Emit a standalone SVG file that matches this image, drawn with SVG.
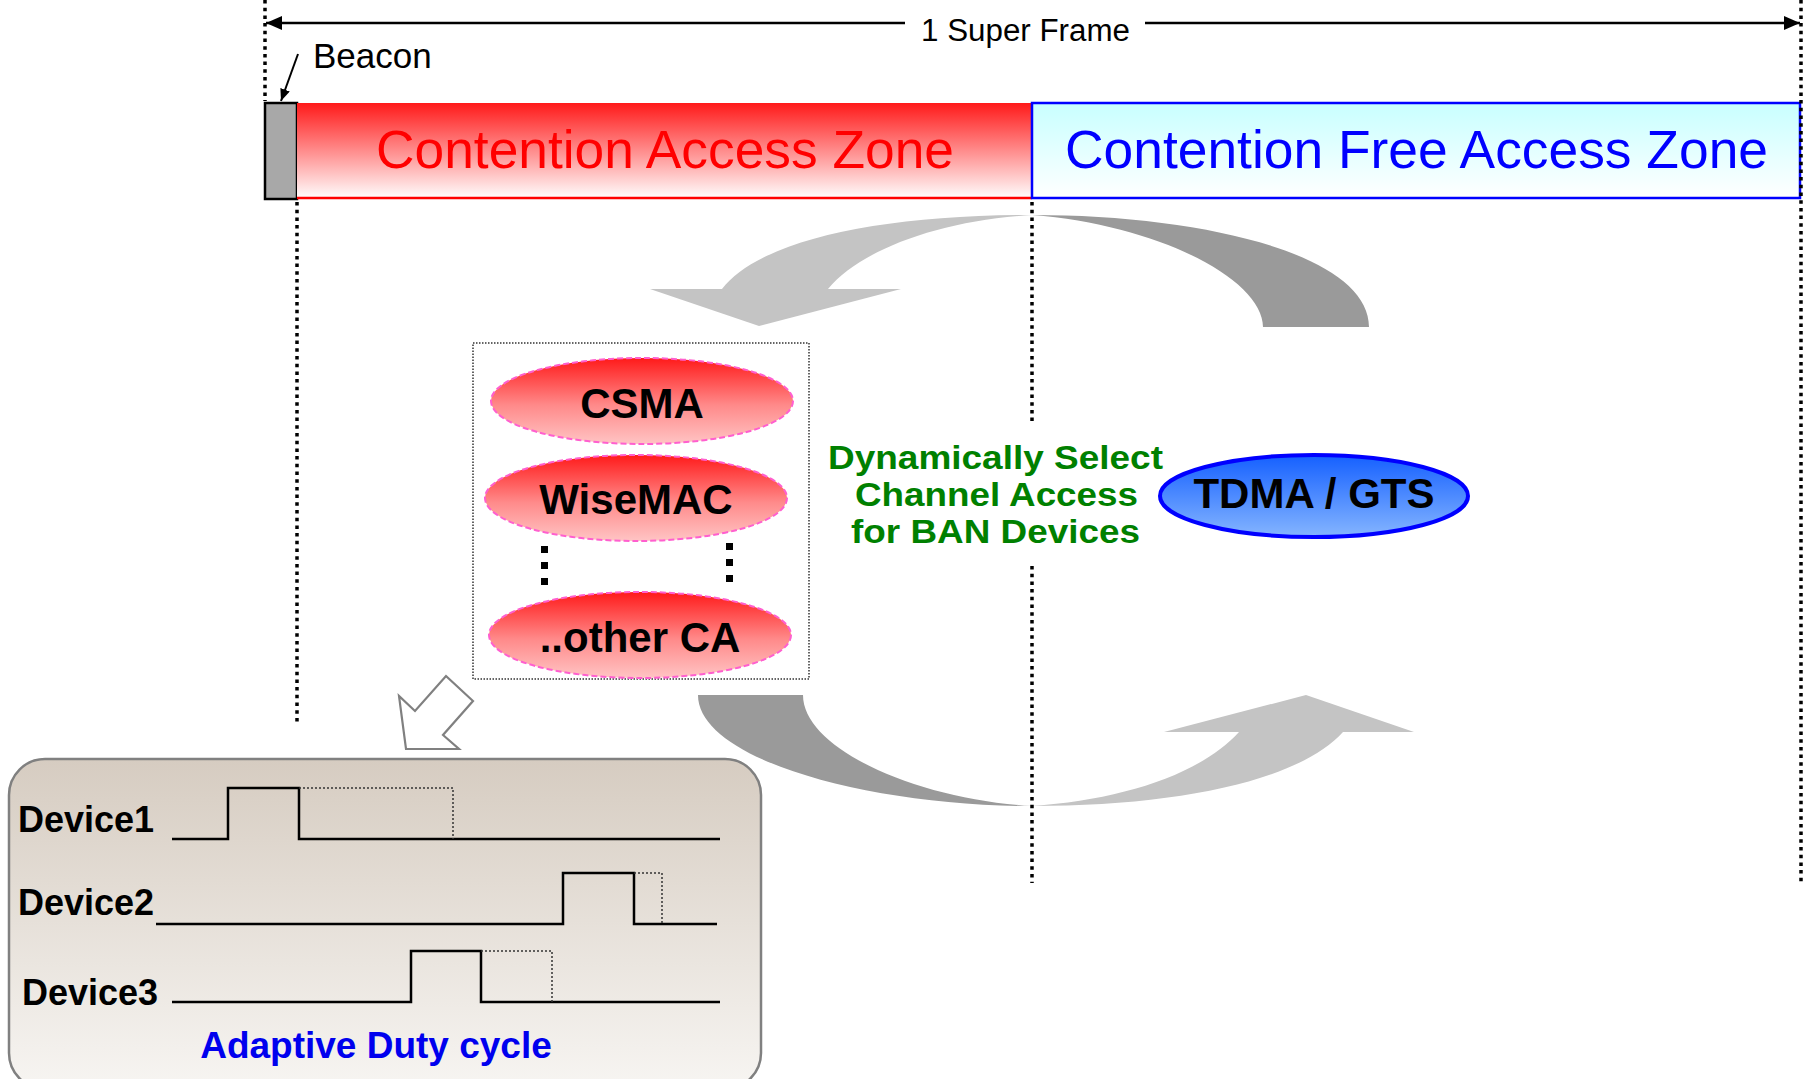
<svg xmlns="http://www.w3.org/2000/svg" width="1803" height="1079" viewBox="0 0 1803 1079">
  <defs>
    <style>
      .sans { font-family: "Liberation Sans", Arial, sans-serif; }
      .bold { font-family: "Liberation Sans", Arial, sans-serif; font-weight: bold; }
      .dotv { stroke: #000; stroke-width: 3.5; stroke-dasharray: 3.5 4.2; fill: none; }
      .wave { stroke: #000; stroke-width: 2.5; fill: none; }
      .wdot { stroke: #333; stroke-width: 1.5; stroke-dasharray: 2 2; fill: none; }
      .redell { fill: url(#gRedEll); stroke: #ff5fcf; stroke-width: 2; stroke-dasharray: 6 3; }
    </style>
    <linearGradient id="gRed" x1="0" y1="0" x2="0" y2="1">
      <stop offset="0" stop-color="#ff1a1a"/>
      <stop offset="1" stop-color="#ffffff"/>
    </linearGradient>
    <linearGradient id="gCyan" x1="0" y1="0" x2="0" y2="1">
      <stop offset="0" stop-color="#c8ffff"/>
      <stop offset="1" stop-color="#ffffff"/>
    </linearGradient>
    <linearGradient id="gRedEll" x1="0" y1="0" x2="0" y2="1">
      <stop offset="0" stop-color="#ff1a1a"/>
      <stop offset="0.55" stop-color="#ff8a8a"/>
      <stop offset="1" stop-color="#ffc4c4"/>
    </linearGradient>
    <linearGradient id="gBlue" x1="0" y1="0" x2="0" y2="1">
      <stop offset="0" stop-color="#1560ff"/>
      <stop offset="1" stop-color="#85b5ff"/>
    </linearGradient>
    <linearGradient id="gBox" x1="0" y1="0" x2="0" y2="1">
      <stop offset="0" stop-color="#d6ccc1"/>
      <stop offset="1" stop-color="#f7f5f2"/>
    </linearGradient>
    <marker id="ah" viewBox="0 0 16 14" refX="16" refY="7" markerWidth="16" markerHeight="14" markerUnits="userSpaceOnUse" orient="auto">
      <path d="M0,0 L16,7 L0,14 Z" fill="#000"/>
    </marker>
    <marker id="ahs" viewBox="0 0 12 10" refX="12" refY="5" markerWidth="12" markerHeight="10" markerUnits="userSpaceOnUse" orient="auto">
      <path d="M0,0 L12,5 L0,10 Z" fill="#000"/>
    </marker>
  </defs>

  <rect width="1803" height="1079" fill="#ffffff"/>

  <!-- cyclic arrows (background) -->
  <g id="cycle-arrows">
    <path d="M722,289 C760,240 880,215 1032,215 C940,220 860,250 828,289 Z" fill="#c4c4c4"/>
    <polygon points="650,289 901,289 759,326" fill="#c4c4c4"/>
    <path d="M1032,215 C1205,215 1369,255 1369,327 L1263,327 C1263,280 1160,225 1032,215 Z" fill="#9a9a9a"/>
    <path d="M698,695 C698,760 870,806 1032,806 C920,800 803,750 803,695 Z" fill="#9a9a9a"/>
    <path d="M1032,806 C1180,806 1300,780 1343,732 L1239,732 C1200,775 1120,800 1032,806 Z" fill="#c4c4c4"/>
    <polygon points="1164,732 1414,732 1306,695" fill="#c4c4c4"/>
  </g>

  <!-- superframe bar -->
  <g id="beacon">
    <rect x="265" y="103" width="32" height="96" fill="#a8a8a8" stroke="#000" stroke-width="2.5"/>
  </g>
  <g id="cap-zone">
    <rect x="297" y="103" width="735" height="96" fill="url(#gRed)"/>
    <line x1="297" y1="198" x2="1032" y2="198" stroke="#ff0000" stroke-width="2.5"/>
    <text x="376" y="168" class="sans" font-size="53" fill="#ff0000" textLength="578" lengthAdjust="spacingAndGlyphs">Contention Access Zone</text>
  </g>
  <g id="cfp-zone">
    <rect x="1032" y="103" width="768" height="95" fill="url(#gCyan)" stroke="#0000ff" stroke-width="2.5"/>
    <text x="1065" y="168" class="sans" font-size="53" fill="#0000ff" textLength="703" lengthAdjust="spacingAndGlyphs">Contention Free Access Zone</text>
  </g>

  <!-- connectors / guide lines -->
  <g id="connectors">
    <line x1="265" y1="0" x2="265" y2="101" class="dotv"/>
    <line x1="1801" y1="0" x2="1801" y2="883" class="dotv"/>
    <line x1="297" y1="202" x2="297" y2="723" class="dotv"/>
    <line x1="1032" y1="202" x2="1032" y2="424" class="dotv"/>
    <line x1="1032" y1="566" x2="1032" y2="883" class="dotv"/>
    <line x1="905" y1="23" x2="266" y2="23" stroke="#000" stroke-width="2.5" marker-end="url(#ah)"/>
    <line x1="1145" y1="23" x2="1800" y2="23" stroke="#000" stroke-width="2.5" marker-end="url(#ah)"/>
    <line x1="298" y1="54" x2="281" y2="101" stroke="#000" stroke-width="2" marker-end="url(#ahs)"/>
    <polygon points="446,676 473,701 443,735 459,749 406,749 399,696 415,711" fill="#ffffff" stroke="#808080" stroke-width="2.2" stroke-linejoin="miter"/>
  </g>

  <g id="labels-top">
    <text x="921" y="41" class="sans" font-size="31" fill="#000" textLength="209" lengthAdjust="spacingAndGlyphs">1 Super Frame</text>
    <text x="313" y="68" class="sans" font-size="35" fill="#000">Beacon</text>
  </g>

  <!-- contention access schemes -->
  <g id="ca-group">
    <rect x="473" y="343" width="336" height="336" fill="none" stroke="#333" stroke-width="1.5" stroke-dasharray="1.5 1.5"/>
  </g>
  <g id="csma">
    <ellipse cx="642" cy="401" rx="151" ry="43" class="redell"/>
    <text x="642" y="418" class="bold" font-size="42" text-anchor="middle" fill="#000">CSMA</text>
  </g>
  <g id="wisemac">
    <ellipse cx="636" cy="498" rx="151" ry="43" class="redell"/>
    <text x="636" y="514" class="bold" font-size="42" text-anchor="middle" fill="#000">WiseMAC</text>
  </g>
  <g id="ellipsis-dots" fill="#000">
    <rect x="541" y="546" width="7" height="7"/>
    <rect x="541" y="562" width="7" height="7"/>
    <rect x="541" y="578" width="7" height="7"/>
    <rect x="726" y="543" width="7" height="7"/>
    <rect x="726" y="559" width="7" height="7"/>
    <rect x="726" y="575" width="7" height="7"/>
  </g>
  <g id="other-ca">
    <ellipse cx="640" cy="635" rx="151" ry="43" class="redell"/>
    <text x="640" y="652" class="bold" font-size="42" text-anchor="middle" fill="#000">..other CA</text>
  </g>

  <g id="select-label" class="bold" font-size="33" fill="#008000">
    <text x="828" y="469" textLength="335" lengthAdjust="spacingAndGlyphs">Dynamically Select</text>
    <text x="855" y="506" textLength="283" lengthAdjust="spacingAndGlyphs">Channel Access</text>
    <text x="851" y="543" textLength="289" lengthAdjust="spacingAndGlyphs">for BAN Devices</text>
  </g>

  <g id="tdma">
    <ellipse cx="1314" cy="496" rx="154" ry="41" fill="url(#gBlue)" stroke="#0000ff" stroke-width="4"/>
    <text x="1314" y="508" class="bold" font-size="42" text-anchor="middle" fill="#000">TDMA / GTS</text>
  </g>

  <!-- duty cycle panel -->
  <g id="duty-cycle">
    <rect x="9" y="759" width="752" height="330" rx="36" ry="36" fill="url(#gBox)" stroke="#808080" stroke-width="2.5"/>
    <text x="18" y="832" class="bold" font-size="36" fill="#000">Device1</text>
    <text x="18" y="915" class="bold" font-size="36" fill="#000">Device2</text>
    <text x="22" y="1005" class="bold" font-size="36" fill="#000">Device3</text>
    <polyline points="172,839 228,839 228,788 299,788 299,839 720,839" class="wave"/>
    <polyline points="299,788 453,788 453,839" class="wdot"/>
    <polyline points="156,924 563,924 563,873 634,873 634,924 717,924" class="wave"/>
    <polyline points="634,873 662,873 662,924" class="wdot"/>
    <polyline points="172,1002 411,1002 411,951 481,951 481,1002 720,1002" class="wave"/>
    <polyline points="481,951 552,951 552,1002" class="wdot"/>
    <text x="376" y="1058" class="bold" font-size="37" fill="#0000ee" text-anchor="middle">Adaptive Duty cycle</text>
  </g>
</svg>
